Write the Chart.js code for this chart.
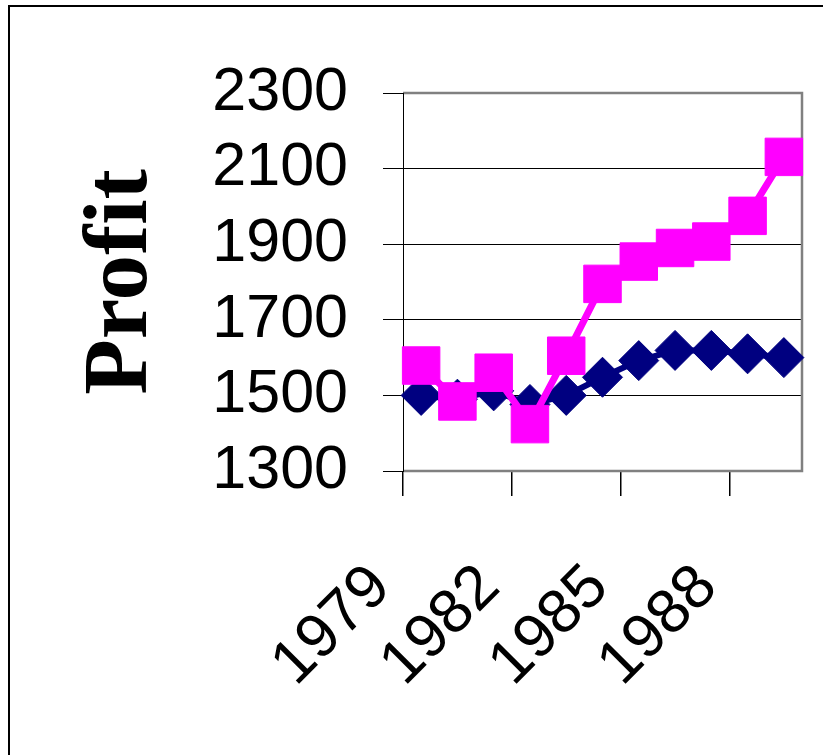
<!DOCTYPE html>
<html><head><meta charset="utf-8">
<script src="https://cdn.jsdelivr.net/npm/chart.js@4/dist/chart.umd.min.js"></script>
<style>html,body{margin:0;padding:0;background:#fff;overflow:hidden}canvas{display:block}</style>
</head><body>
<canvas id="c" width="823" height="755"></canvas>
<script>
const years = ['1979','1980','1981','1982','1983','1984','1985','1986','1987','1988','1989'];
const shownYears = ['1979','1982','1985','1988'];
const navyValues = [1500, 1490, 1512, 1476, 1500, 1548, 1592, 1619, 1619, 1610, 1600];
const pinkValues = [1579, 1484, 1560, 1424, 1605, 1795, 1854, 1890, 1907, 1975, 2131];
const yTickValues = [1300, 1500, 1700, 1900, 2100, 2300];
const yTitle = 'Profit';

const frame = {
  id: 'frame',
  beforeDraw(chart) {
    const c = chart.ctx;
    c.save();
    c.fillStyle = '#fff';
    c.fillRect(0, 0, chart.width, chart.height);
    c.strokeStyle = '#000';
    c.lineWidth = 2;
    c.strokeRect(9, 6, 1000, 1000);
    c.restore();
  },
  beforeDatasetsDraw(chart) {
    const {left, top, right, bottom} = chart.chartArea;
    const c = chart.ctx;
    c.save();
    c.strokeStyle = '#808080';
    c.lineWidth = 2.5;
    c.beginPath();
    c.moveTo(left, top);
    c.lineTo(right, top);
    c.lineTo(right, bottom);
    c.lineTo(left, bottom);
    c.stroke();
    c.strokeStyle = '#000';
    c.lineWidth = 1;
    c.beginPath();
    c.moveTo(left + 0.5, top);
    c.lineTo(left + 0.5, bottom + 1);
    c.stroke();
    c.restore();
  }
};

const sans = '"Liberation Sans", Arial, sans-serif';

new Chart(document.getElementById('c'), {
  type: 'line',
  data: {
    labels: years,
    datasets: [
      {
        label: 'Series 1',
        data: navyValues,
        borderColor: '#000080',
        backgroundColor: '#000080',
        borderWidth: 6,
        pointStyle: 'rectRot',
        pointRadius: 20,
        pointBorderWidth: 1,
        pointBorderColor: '#000080',
        pointBackgroundColor: '#000080',
        order: 1,
        tension: 0
      },
      {
        label: 'Series 2',
        data: pinkValues,
        borderColor: '#FF00FF',
        backgroundColor: '#FF00FF',
        borderWidth: 7,
        pointStyle: 'rect',
        pointRadius: 26.5,
        pointBorderWidth: 1,
        pointBorderColor: '#FF00FF',
        pointBackgroundColor: '#FF00FF',
        order: 0,
        tension: 0
      }
    ]
  },
  options: {
    responsive: false,
    animation: false,
    devicePixelRatio: 1,
    layout: { autoPadding: false, padding: { left: 0, top: 93, right: 21, bottom: 0 } },
    plugins: { legend: { display: false }, tooltip: { enabled: false } },
    scales: {
      x: {
        type: 'category',
        offset: true,
        border: { display: false },
        grid: {
          offset: true,
          drawOnChartArea: false,
          drawTicks: true,
          tickLength: 25,
          lineWidth: 1.5,
          tickColor: ctx => (ctx.tick && shownYears.includes(years[ctx.index])) ? '#000' : 'rgba(0,0,0,0)',
          color: 'rgba(0,0,0,0)'
        },
        ticks: {
          autoSkip: false,
          minRotation: 45,
          maxRotation: 45,
          padding: 55,
          labelOffset: -40,
          color: '#000',
          font: { family: sans, size: 62 },
          callback: function(v, i) { const l = this.getLabelForValue(v); return shownYears.includes(l) ? l : ''; }
        },
        afterFit: s => { s.height = 755 - 471; s.paddingLeft = 0; s.paddingRight = 0; }
      },
      y: {
        min: 1300,
        max: 2300,
        border: { display: false },
        grid: {
          color: '#000',
          lineWidth: 1,
          drawTicks: true,
          tickLength: 20,
          tickColor: '#000'
        },
        ticks: {
          autoSkip: false,
          padding: 35,
          color: '#000',
          font: { family: sans, size: 61 },
          callback: v => String(v)
        },
        afterBuildTicks: s => { s.ticks = yTickValues.map(v => ({ value: v })); },
        title: {
          display: true,
          text: yTitle,
          color: '#000',
          font: { family: '"Liberation Serif", "Times New Roman", serif', size: 91, weight: 'bold' },
          padding: { top: 68, bottom: 0 }
        },
        afterFit: s => { s.width = 403; s.paddingTop = 0; s.paddingBottom = 0; }
      }
    }
  },
  plugins: [frame]
});
</script>
</body></html>
